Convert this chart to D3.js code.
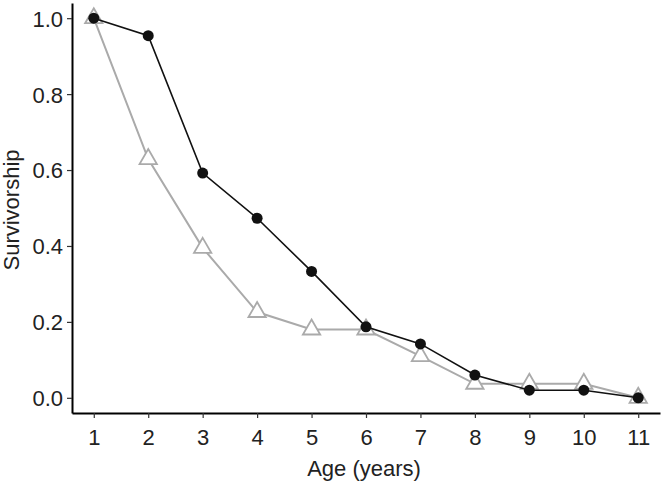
<!DOCTYPE html>
<html><head><meta charset="utf-8">
<script src="https://cdn.jsdelivr.net/npm/d3@7"></script>
<style>
body{margin:0;background:#fff;}
text{font-family:"Liberation Sans",Arial,sans-serif;fill:#222;}
</style></head>
<body><svg id="chart" width="664" height="485"></svg>
<script>
const ages = [1,2,3,4,5,6,7,8,9,10,11];
const seriesBlack = [1.0,0.954,0.592,0.473,0.333,0.187,0.142,0.06,0.02,0.02,0.0];
const seriesGray = [1.0,0.629,0.395,0.226,0.18,0.18,0.11,0.037,0.037,0.037,0.0];
const xTicks = [1,2,3,4,5,6,7,8,9,10,11];
const yTicks = [0,0.2,0.4,0.6,0.8,1.0];

const svg = d3.select("#chart");
const x = d3.scaleLinear().domain([0.6,11.4]).range([72,660]);
const y = d3.scaleLinear().domain([-0.04,1.04]).range([413,3]);

const xAxis = svg.append("g").attr("transform","translate(0,413)")
  .call(d3.axisBottom(x).tickValues(xTicks).tickFormat(d3.format("d")).tickSize(5).tickSizeOuter(0));
const yAxis = svg.append("g").attr("transform","translate(72,0)")
  .call(d3.axisLeft(y).tickValues(yTicks).tickFormat(d3.format(".1f")).tickSize(5).tickSizeOuter(0));
[xAxis,yAxis].forEach(a=>{
  a.select(".domain").attr("stroke","#000").attr("stroke-width",2);
  a.selectAll(".tick line").attr("stroke","#333").attr("stroke-width",1.2);
  a.selectAll(".tick text").attr("font-size",22).attr("fill","#222").attr("font-family","'Liberation Sans',Arial,sans-serif");
});
xAxis.selectAll(".tick text").attr("dy","0.9em").attr("y",12);
yAxis.selectAll(".tick text").attr("x",-9).attr("dy","0.36em");

svg.append("text").attr("x",364).attr("y",476).attr("text-anchor","middle").attr("font-size",22).text("Age (years)");
svg.append("text").attr("transform","translate(19,210) rotate(-90)").attr("text-anchor","middle").attr("font-size",22).text("Survivorship");

const line = d3.line().x((d,i)=>x(ages[i])).y(d=>y(d));
svg.append("path").datum(seriesGray).attr("d",line).attr("fill","none").attr("stroke","#aaaaaa").attr("stroke-width",2);
const tri = d3.symbol().type(d3.symbolTriangle).size(130);
svg.selectAll(".tri").data(seriesGray).join("path").attr("class","tri")
  .attr("d",tri).attr("transform",(d,i)=>`translate(${x(ages[i])},${y(d)})`)
  .attr("fill","#fff").attr("stroke","#aaaaaa").attr("stroke-width",1.8);
svg.append("path").datum(seriesBlack).attr("d",line).attr("fill","none").attr("stroke","#111").attr("stroke-width",1.6);
svg.selectAll(".dot").data(seriesBlack).join("circle").attr("class","dot")
  .attr("cx",(d,i)=>x(ages[i])).attr("cy",d=>y(d)).attr("r",5.5).attr("fill","#111");
</script></body></html>
